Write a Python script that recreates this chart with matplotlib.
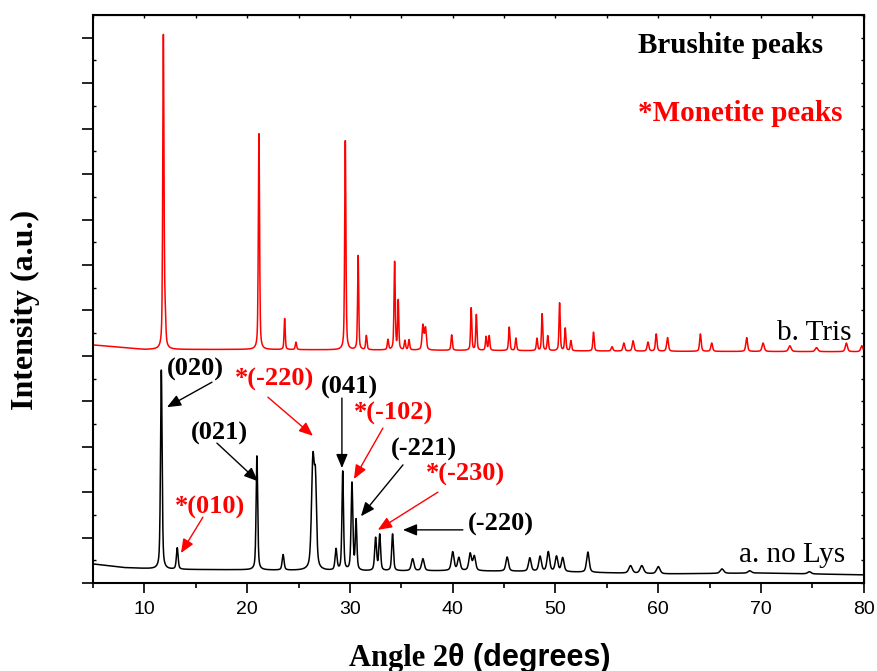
import numpy as np
import matplotlib
matplotlib.use("Agg")
import matplotlib.pyplot as plt

# peak lists: (2theta, top of peak, fwhm)
tris_peaks = [
    (11.85, 12.13, 0.14), (12.02, 5.70, 0.15), (21.15, 9.97, 0.14), (23.65, 5.83, 0.13),
    (24.75, 5.30, 0.15), (29.55, 9.81, 0.14), (30.80, 7.20, 0.13), (31.60, 5.44, 0.15),
    (33.70, 5.35, 0.15), (34.35, 7.09, 0.14), (34.70, 6.20, 0.13), (35.35, 5.33, 0.15),
    (35.75, 5.35, 0.15), (37.10, 5.66, 0.20), (37.35, 5.60, 0.20), (39.90, 5.46, 0.15),
    (41.80, 6.05, 0.14), (42.30, 5.90, 0.14), (43.25, 5.42, 0.15), (43.55, 5.44, 0.15),
    (45.50, 5.63, 0.15), (46.15, 5.39, 0.15), (48.20, 5.38, 0.15), (48.70, 5.92, 0.14),
    (49.25, 5.44, 0.15), (50.40, 6.16, 0.14), (50.95, 5.61, 0.15), (51.50, 5.33, 0.15),
    (53.70, 5.52, 0.15), (55.50, 5.20, 0.20), (56.65, 5.28, 0.20), (57.55, 5.33, 0.20),
    (59.00, 5.30, 0.20), (59.80, 5.48, 0.18), (60.90, 5.40, 0.20), (64.10, 5.48, 0.18),
    (65.20, 5.28, 0.20), (68.60, 5.40, 0.20), (70.20, 5.28, 0.25), (72.80, 5.22, 0.30),
    (75.40, 5.18, 0.30), (78.30, 5.28, 0.25), (79.80, 5.22, 0.25),
]
tris_base_x = [5, 10, 20, 40, 60, 80]
tris_base_y = [5.24, 5.14, 5.14, 5.12, 5.10, 5.09]

nolys_peaks = [
    (11.65, 4.73, 0.18), (13.20, 0.77, 0.20), (20.95, 2.82, 0.18), (23.50, 0.62, 0.22),
    (26.40, 2.65, 0.32), (26.65, 1.95, 0.25), (28.65, 0.73, 0.22), (29.30, 2.44, 0.18),
    (30.20, 2.18, 0.20), (30.60, 1.35, 0.18), (32.50, 0.98, 0.22), (32.90, 1.05, 0.20),
    (34.15, 1.08, 0.20), (36.10, 0.53, 0.30), (37.10, 0.53, 0.30), (40.00, 0.68, 0.30),
    (40.60, 0.55, 0.30), (41.70, 0.64, 0.30), (42.10, 0.58, 0.30), (45.30, 0.57, 0.30),
    (47.50, 0.55, 0.30), (48.50, 0.58, 0.30), (49.30, 0.68, 0.30), (50.10, 0.58, 0.30),
    (50.70, 0.55, 0.30), (53.15, 0.68, 0.30), (57.30, 0.38, 0.40), (58.40, 0.38, 0.40),
    (60.00, 0.36, 0.40), (66.20, 0.31, 0.40), (68.90, 0.27, 0.40), (74.70, 0.25, 0.40),
]
nolys_base_x = [5, 8, 12, 20, 30, 40, 50, 60, 70, 80]
nolys_base_y = [0.42, 0.34, 0.30, 0.29, 0.26, 0.27, 0.25, 0.20, 0.22, 0.18]

# (label, colour, text pos, arrow tail, arrow head) in data units
labels = [
    ("(020)", "black", (14.92, 4.69), (16.58, 4.42), (12.20, 3.87)),
    ("*(010)", "red", (16.38, 1.67), (15.70, 1.45), (13.56, 0.66)),
    ("(021)", "black", (17.35, 3.30), (17.06, 3.08), (21.05, 2.24)),
    ("*(-220)", "red", (22.70, 4.47), (22.02, 4.09), (26.40, 3.24)),
    ("(041)", "black", (29.95, 4.31), (29.22, 4.07), (29.22, 2.53)),
    ("*(-102)", "red", (34.28, 3.74), (33.21, 3.41), (30.39, 2.29)),
    ("(-221)", "black", (37.20, 2.93), (35.16, 2.60), (31.07, 1.47)),
    ("*(-230)", "red", (41.24, 2.38), (38.56, 2.00), (32.72, 1.17)),
    ("(-220)", "black", (44.69, 1.30), (40.99, 1.17), (35.16, 1.17)),
]


def pattern(x, peaks, bx, by):
    base = np.interp(x, bx, by)
    y = base.copy()
    for pos, top, w in peaks:
        h = top - np.interp(pos, bx, by)
        d = (x - pos) / (w / 2)
        # pseudo-voigt, half gauss half lorentz
        y += h * (0.5 / (1 + d**2) + 0.5 * np.exp(-np.log(2) * d**2))
    return y


tt = np.arange(5, 80.001, 0.02)
y_tris = pattern(tt, tris_peaks, tris_base_x, tris_base_y)
y_nolys = pattern(tt, nolys_peaks, nolys_base_x, nolys_base_y)

serif = "Liberation Serif"
sans = "Liberation Sans"

fig = plt.figure(figsize=(8.77, 6.71), dpi=100)
ax = fig.add_axes([0.106, 0.1311, 0.879, 0.8465])

ax.plot(tt, y_nolys, color="black", lw=1.1)
ax.plot(tt, y_tris, color="red", lw=1.1)

ax.set_xlim(5, 80)
ax.set_ylim(0, 12.5)

ax.set_xticks(range(10, 81, 10))
ax.set_xticks(range(5, 81, 10), minor=True)
ax.set_yticks(range(0, 13))
ax.set_yticks(np.arange(0.5, 12.5, 1), minor=True)
ax.set_yticklabels([])
ax.tick_params(axis="x", which="major", direction="out", length=7, width=1.2,
               labelsize=14, pad=6)
ax.tick_params(axis="x", which="minor", direction="out", length=3.5, width=1.2)
ax.tick_params(axis="y", which="major", direction="out", length=8, width=1.2)
ax.tick_params(axis="y", which="minor", direction="in", length=2.5, width=1.0)
for lab in ax.get_xticklabels():
    lab.set_fontfamily(sans)
for s in ax.spines.values():
    s.set_linewidth(1.5)

top = ax.secondary_xaxis("top")
top.set_xticks(range(5, 81, 5))
top.set_xticklabels([])
top.tick_params(direction="in", length=2.5, width=1.0)
right = ax.secondary_yaxis("right")
right.set_yticks(np.arange(0, 12.6, 0.5))
right.set_yticklabels([])
right.tick_params(direction="in", length=2.5, width=1.0)

for text, col, tpos, tail, head in labels:
    ax.annotate("", xy=head, xytext=tail,
                arrowprops=dict(arrowstyle="-|>,head_length=0.6,head_width=0.25",
                                color=col, lw=1.0, mutation_scale=14,
                                shrinkA=0, shrinkB=0))
    ax.text(tpos[0], tpos[1], text, color=col, fontsize=19, fontweight="bold",
            family=serif, ha="center", va="center")

ax.text(58.0, 11.84, "Brushite peaks", color="black", fontsize=21,
        fontweight="bold", family=serif, ha="left", va="center")
ax.text(58.0, 10.34, "*Monetite peaks", color="red", fontsize=21,
        fontweight="bold", family=serif, ha="left", va="center")
ax.text(78.83, 5.50, "b. Tris", fontsize=21, family=serif, ha="right", va="center")
ax.text(78.15, 0.62, "a. no Lys", fontsize=21, family=serif, ha="right", va="center")

fig.text(0.511, 0.008, "Angle 2", fontsize=22, fontweight="bold", family=serif,
         ha="right", va="baseline")
fig.text(0.511, 0.008, "\u03b8 (degrees)", fontsize=22, fontweight="bold",
         family=sans, ha="left", va="baseline")
fig.text(0.029, 0.538, "Intensity (a.u.)", fontsize=23, fontweight="bold",
         family=serif, rotation=90, ha="center", va="center")

fig.savefig("out.png", dpi=100)
